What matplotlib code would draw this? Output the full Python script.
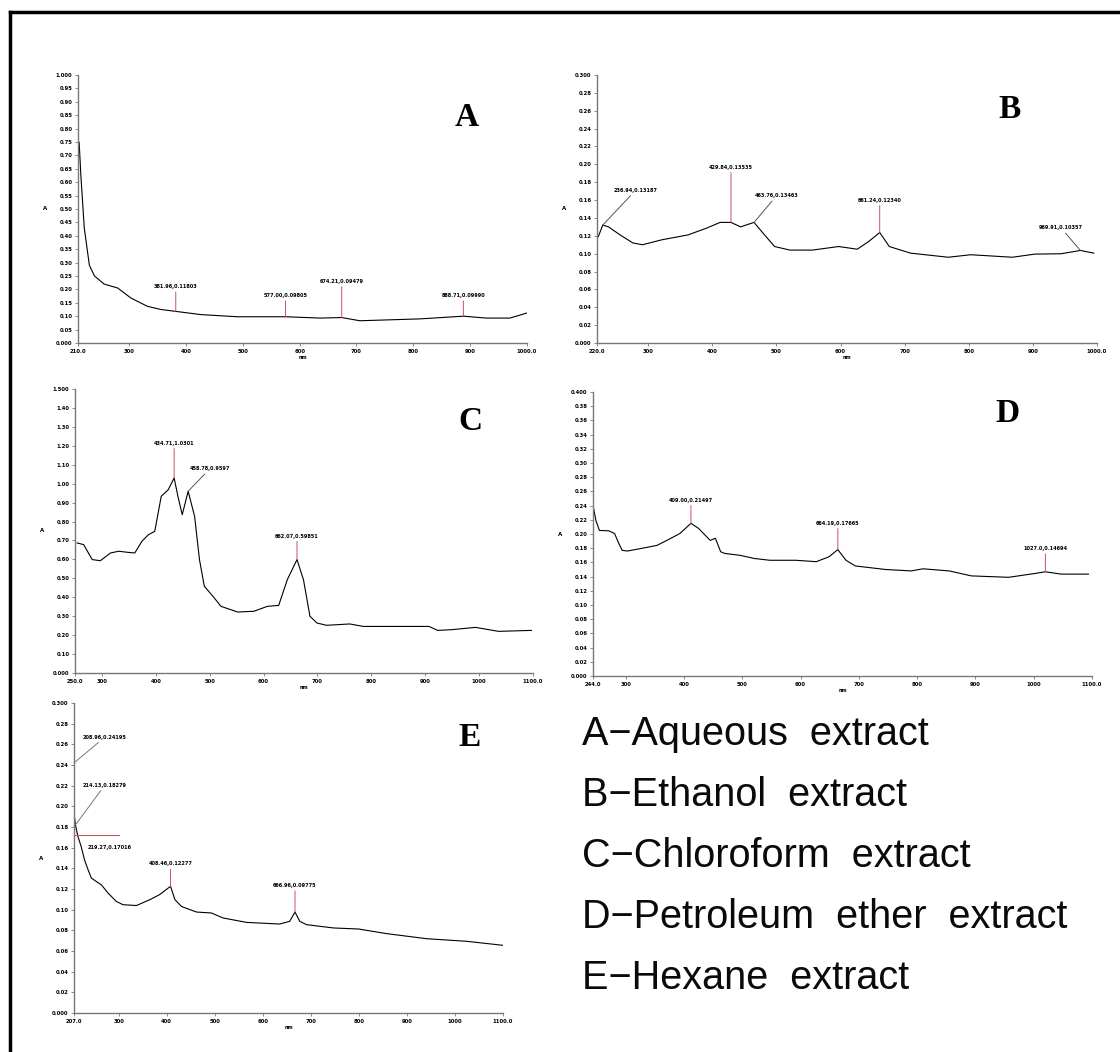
import matplotlib
matplotlib.use('Agg')
import matplotlib.pyplot as plt
from matplotlib.lines import Line2D
from matplotlib.ticker import MultipleLocator, FuncFormatter

W, H = 1120, 1052

# ---- A: aqueous extract ----
A_nm = [212, 215, 221, 230, 239, 256, 280, 303, 332, 356, 382, 426, 490, 575, 636, 674, 706, 812, 888, 929, 970, 1000]
A_abs = [0.749, 0.627, 0.43, 0.29, 0.25, 0.22, 0.205, 0.168, 0.137, 0.125, 0.118, 0.106, 0.098, 0.098, 0.093,
         0.095, 0.083, 0.09, 0.10, 0.093, 0.093, 0.112]
A_peaks = [(382, 0.118, 382, 0.20, '381.96,0.11803'),
           (575, 0.098, 575, 0.168, '577.00,0.09805'),
           (674, 0.095, 674, 0.22, '674.21,0.09479'),
           (888, 0.100, 888, 0.168, '888.71,0.09990')]

# ---- B: ethanol extract ----
B_nm = [222, 229, 238, 256, 276, 291, 321, 362, 391, 412, 429, 444, 465, 479, 497, 521, 556, 597, 626, 644,
        661, 676, 709, 768, 803, 868, 903, 944, 974, 995]
B_abs = [0.119, 0.132, 0.130, 0.121, 0.112, 0.110, 0.1155, 0.121, 0.1286, 0.135, 0.135, 0.130, 0.135, 0.123,
         0.108, 0.104, 0.104, 0.108, 0.105, 0.1137, 0.1237, 0.108, 0.1006, 0.096, 0.0988, 0.096, 0.0995,
         0.0999, 0.1036, 0.1006]
B_peaks = [(229, 0.132, 280, 0.168, '236.94,0.13187'),
           (429, 0.135, 429, 0.194, '429.84,0.13535'),
           (465, 0.135, 500, 0.162, '463.76,0.13463'),
           (661, 0.1237, 661, 0.157, '661.24,0.12340'),
           (974, 0.1036, 944, 0.126, '969.91,0.10357')]

# ---- C: chloroform extract ----
C_nm = [254, 266, 282, 297, 316, 331, 349, 361, 374, 386, 398, 410, 423, 434, 441, 449, 460, 472, 481, 490,
        506, 521, 552, 582, 607, 628, 644, 662, 674, 686, 699, 717, 760, 785, 846, 907, 923, 950, 993, 1036, 1097]
C_abs = [0.687, 0.678, 0.599, 0.593, 0.634, 0.643, 0.637, 0.634, 0.695, 0.73, 0.748, 0.933, 0.968, 1.03,
         0.933, 0.836, 0.96, 0.827, 0.599, 0.458, 0.405, 0.352, 0.322, 0.326, 0.352, 0.357, 0.493, 0.599,
         0.493, 0.30, 0.264, 0.252, 0.259, 0.246, 0.246, 0.246, 0.225, 0.229, 0.241, 0.22, 0.225]
C_peaks = [(434, 1.03, 434, 1.20, '434.71,1.0301'),
           (460, 0.96, 500, 1.065, '458.78,0.9597'),
           (662, 0.599, 662, 0.71, '662.07,0.59851')]

# ---- D: petroleum ether extract ----
D_nm = [244, 249, 255, 271, 281, 287, 294, 303, 329, 354, 380, 393, 412, 425, 445, 454, 463, 470, 496, 521,
        547, 592, 627, 649, 664, 678, 694, 746, 790, 810, 855, 893, 957, 1002, 1020, 1047, 1094]
D_abs = [0.2406, 0.219, 0.205, 0.2045, 0.2007, 0.189, 0.177, 0.176, 0.18, 0.184, 0.195, 0.2007, 0.215, 0.208,
         0.191, 0.194, 0.175, 0.1726, 0.170, 0.1655, 0.163, 0.163, 0.161, 0.168, 0.178, 0.163, 0.155, 0.150,
         0.148, 0.151, 0.148, 0.141, 0.139, 0.1444, 0.1468, 0.1435, 0.1435]
D_peaks = [(412, 0.215, 412, 0.244, '409.00,0.21497'),
           (664, 0.178, 664, 0.2115, '664.19,0.17665'),
           (1020, 0.1468, 1020, 0.176, '1027.0,0.14694')]

# ---- E: hexane extract ----
E_nm = [207, 208, 210, 215, 222, 229, 236, 243, 253, 264, 278, 295, 309, 337, 365, 385, 408, 417, 431, 462,
        493, 517, 566, 635, 656, 667, 677, 691, 747, 799, 858, 941, 1024, 1100]
E_abs = [0.242, 0.19, 0.182, 0.171, 0.161, 0.148, 0.139, 0.1306, 0.1274, 0.124, 0.116, 0.108, 0.1048, 0.104,
         0.1097, 0.1145, 0.1226, 0.1097, 0.103, 0.0977, 0.0968, 0.092, 0.0877, 0.0861, 0.0887, 0.0977,
         0.0887, 0.0855, 0.0823, 0.0813, 0.0768, 0.0719, 0.0694, 0.0655]
E_peaks = [(207, 0.242, 271, 0.2645, '208.96,0.24195'),
           (210, 0.182, 271, 0.218, '214.13,0.18279')]
E_peaks_v = [(408, 0.1226, 408, 0.142, '408.46,0.12277'),
             (667, 0.0977, 667, 0.121, '666.96,0.09775')]
E_flat = (208, 0.1726, 300, 282, 0.160, '219.27,0.17016')

legend_lines = ['A\u2212Aqueous  extract', 'B\u2212Ethanol  extract', 'C\u2212Chloroform  extract',
                'D\u2212Petroleum  ether  extract', 'E\u2212Hexane  extract']

# panel specs: pixel box (x0, x1, y0, y1), xlim, xticks, ylim, ystep, letter position
panels = [
    ('A', A_nm, A_abs, A_peaks, (78, 527, 75, 343), (210, 1000), [210, 300, 400, 500, 600, 700, 800, 900, 1000],
     (0, 1.0), 0.05, (467, 117)),
    ('B', B_nm, B_abs, B_peaks, (597, 1097, 75, 343), (220, 1000), [220, 300, 400, 500, 600, 700, 800, 900, 1000],
     (0, 0.30), 0.02, (1010, 110)),
    ('C', C_nm, C_abs, C_peaks, (75, 533, 389, 673), (250, 1100),
     [250, 300, 400, 500, 600, 700, 800, 900, 1000, 1100], (0, 1.5), 0.1, (470, 422)),
    ('D', D_nm, D_abs, D_peaks, (593, 1092, 392, 676), (244, 1100),
     [244, 300, 400, 500, 600, 700, 800, 900, 1000, 1100], (0, 0.40), 0.02, (1008, 413)),
    ('E', E_nm, E_abs, E_peaks_v, (74, 503, 703, 1013), (207, 1100),
     [207, 300, 400, 500, 600, 700, 800, 900, 1000, 1100], (0, 0.30), 0.02, (470, 738)),
]

red = '#c8505f'
fig = plt.figure(figsize=(W / 100, H / 100), dpi=100)
fig.patch.set_facecolor('white')

axes = {}
for name, xs, ys, peaks, box, xlim, xticks, ylim, ystep, lpos in panels:
    x0, x1, y0, y1 = box
    ax = fig.add_axes([x0 / W, 1 - y1 / H, (x1 - x0) / W, (y1 - y0) / H])
    axes[name] = ax
    ax.plot(xs, ys, color='black', lw=0.8)
    ax.set_xlim(*xlim)
    ax.set_ylim(*ylim)
    for s in ['top', 'right']:
        ax.spines[s].set_visible(False)
    for s in ['left', 'bottom']:
        ax.spines[s].set_color('#777777')
        ax.spines[s].set_linewidth(1.0)
    ax.set_xticks(xticks)
    ax.set_xticklabels([f'{t:.1f}' if i in (0, len(xticks) - 1) else str(t) for i, t in enumerate(xticks)])
    ax.yaxis.set_major_locator(MultipleLocator(ystep))
    top = ylim[1]
    ax.yaxis.set_major_formatter(FuncFormatter(
        lambda v, p, top=top: '0.000' if abs(v) < 1e-9 else (f'{v:.3f}' if abs(v - top) < 1e-9 else f'{v:.2f}')))
    ax.tick_params(axis='both', labelsize=3.8, length=2, width=0.6, color='#777777', pad=2)
    for lab in ax.get_xticklabels() + ax.get_yticklabels():
        lab.set_fontweight('bold')
    ax.set_ylabel('A', rotation=0, fontsize=4, fontweight='bold', labelpad=8, va='center')
    ax.set_xlabel('nm', fontsize=3.5, fontweight='bold', labelpad=1)
    ax.patch.set_alpha(0)
    fig.text(lpos[0] / W, 1 - lpos[1] / H, name, fontsize=24, fontweight='bold',
             family='Liberation Serif', ha='center', va='center')

    for px, py, tx, ty, txt in peaks:
        vertical = (tx == px)
        ax.annotate(txt, xy=(px, py), xytext=(tx, ty), fontsize=3.6, fontweight='bold',
                    ha='center', va='bottom',
                    arrowprops=dict(arrowstyle='-', color=red if vertical else '#555555', lw=0.7,
                                    shrinkA=0, shrinkB=0))

# extra E annotations pointing at the steep start
axE = axes['E']
for px, py, tx, ty, txt in E_peaks:
    axE.annotate(txt, xy=(px, py), xytext=(tx, ty), fontsize=3.6, fontweight='bold',
                 ha='center', va='bottom',
                 arrowprops=dict(arrowstyle='-', color='#777777', lw=0.7, shrinkA=0, shrinkB=0))
fx, fy, fend, ftx, fty, ftxt = E_flat
axE.plot([fx, fend], [fy, fy], color=red, lw=0.8)
axE.text(ftx, fty, ftxt, fontsize=3.6, fontweight='bold', ha='center', va='center')

# legend text block
for i, line in enumerate(legend_lines):
    fig.text(582 / W, 1 - (734 + i * 61) / H, line, fontsize=28.5, family='Liberation Sans',
             ha='left', va='center', color='#0a0a0a')

# outer frame (left and top edges visible)
fig.add_artist(Line2D([9.5 / W, 9.5 / W], [0, 1 - 12 / H], transform=fig.transFigure, color='black', lw=2.5))
fig.add_artist(Line2D([9.5 / W, 1], [1 - 12 / H, 1 - 12 / H], transform=fig.transFigure, color='black', lw=2.5))

fig.savefig('out.png', dpi=100)
